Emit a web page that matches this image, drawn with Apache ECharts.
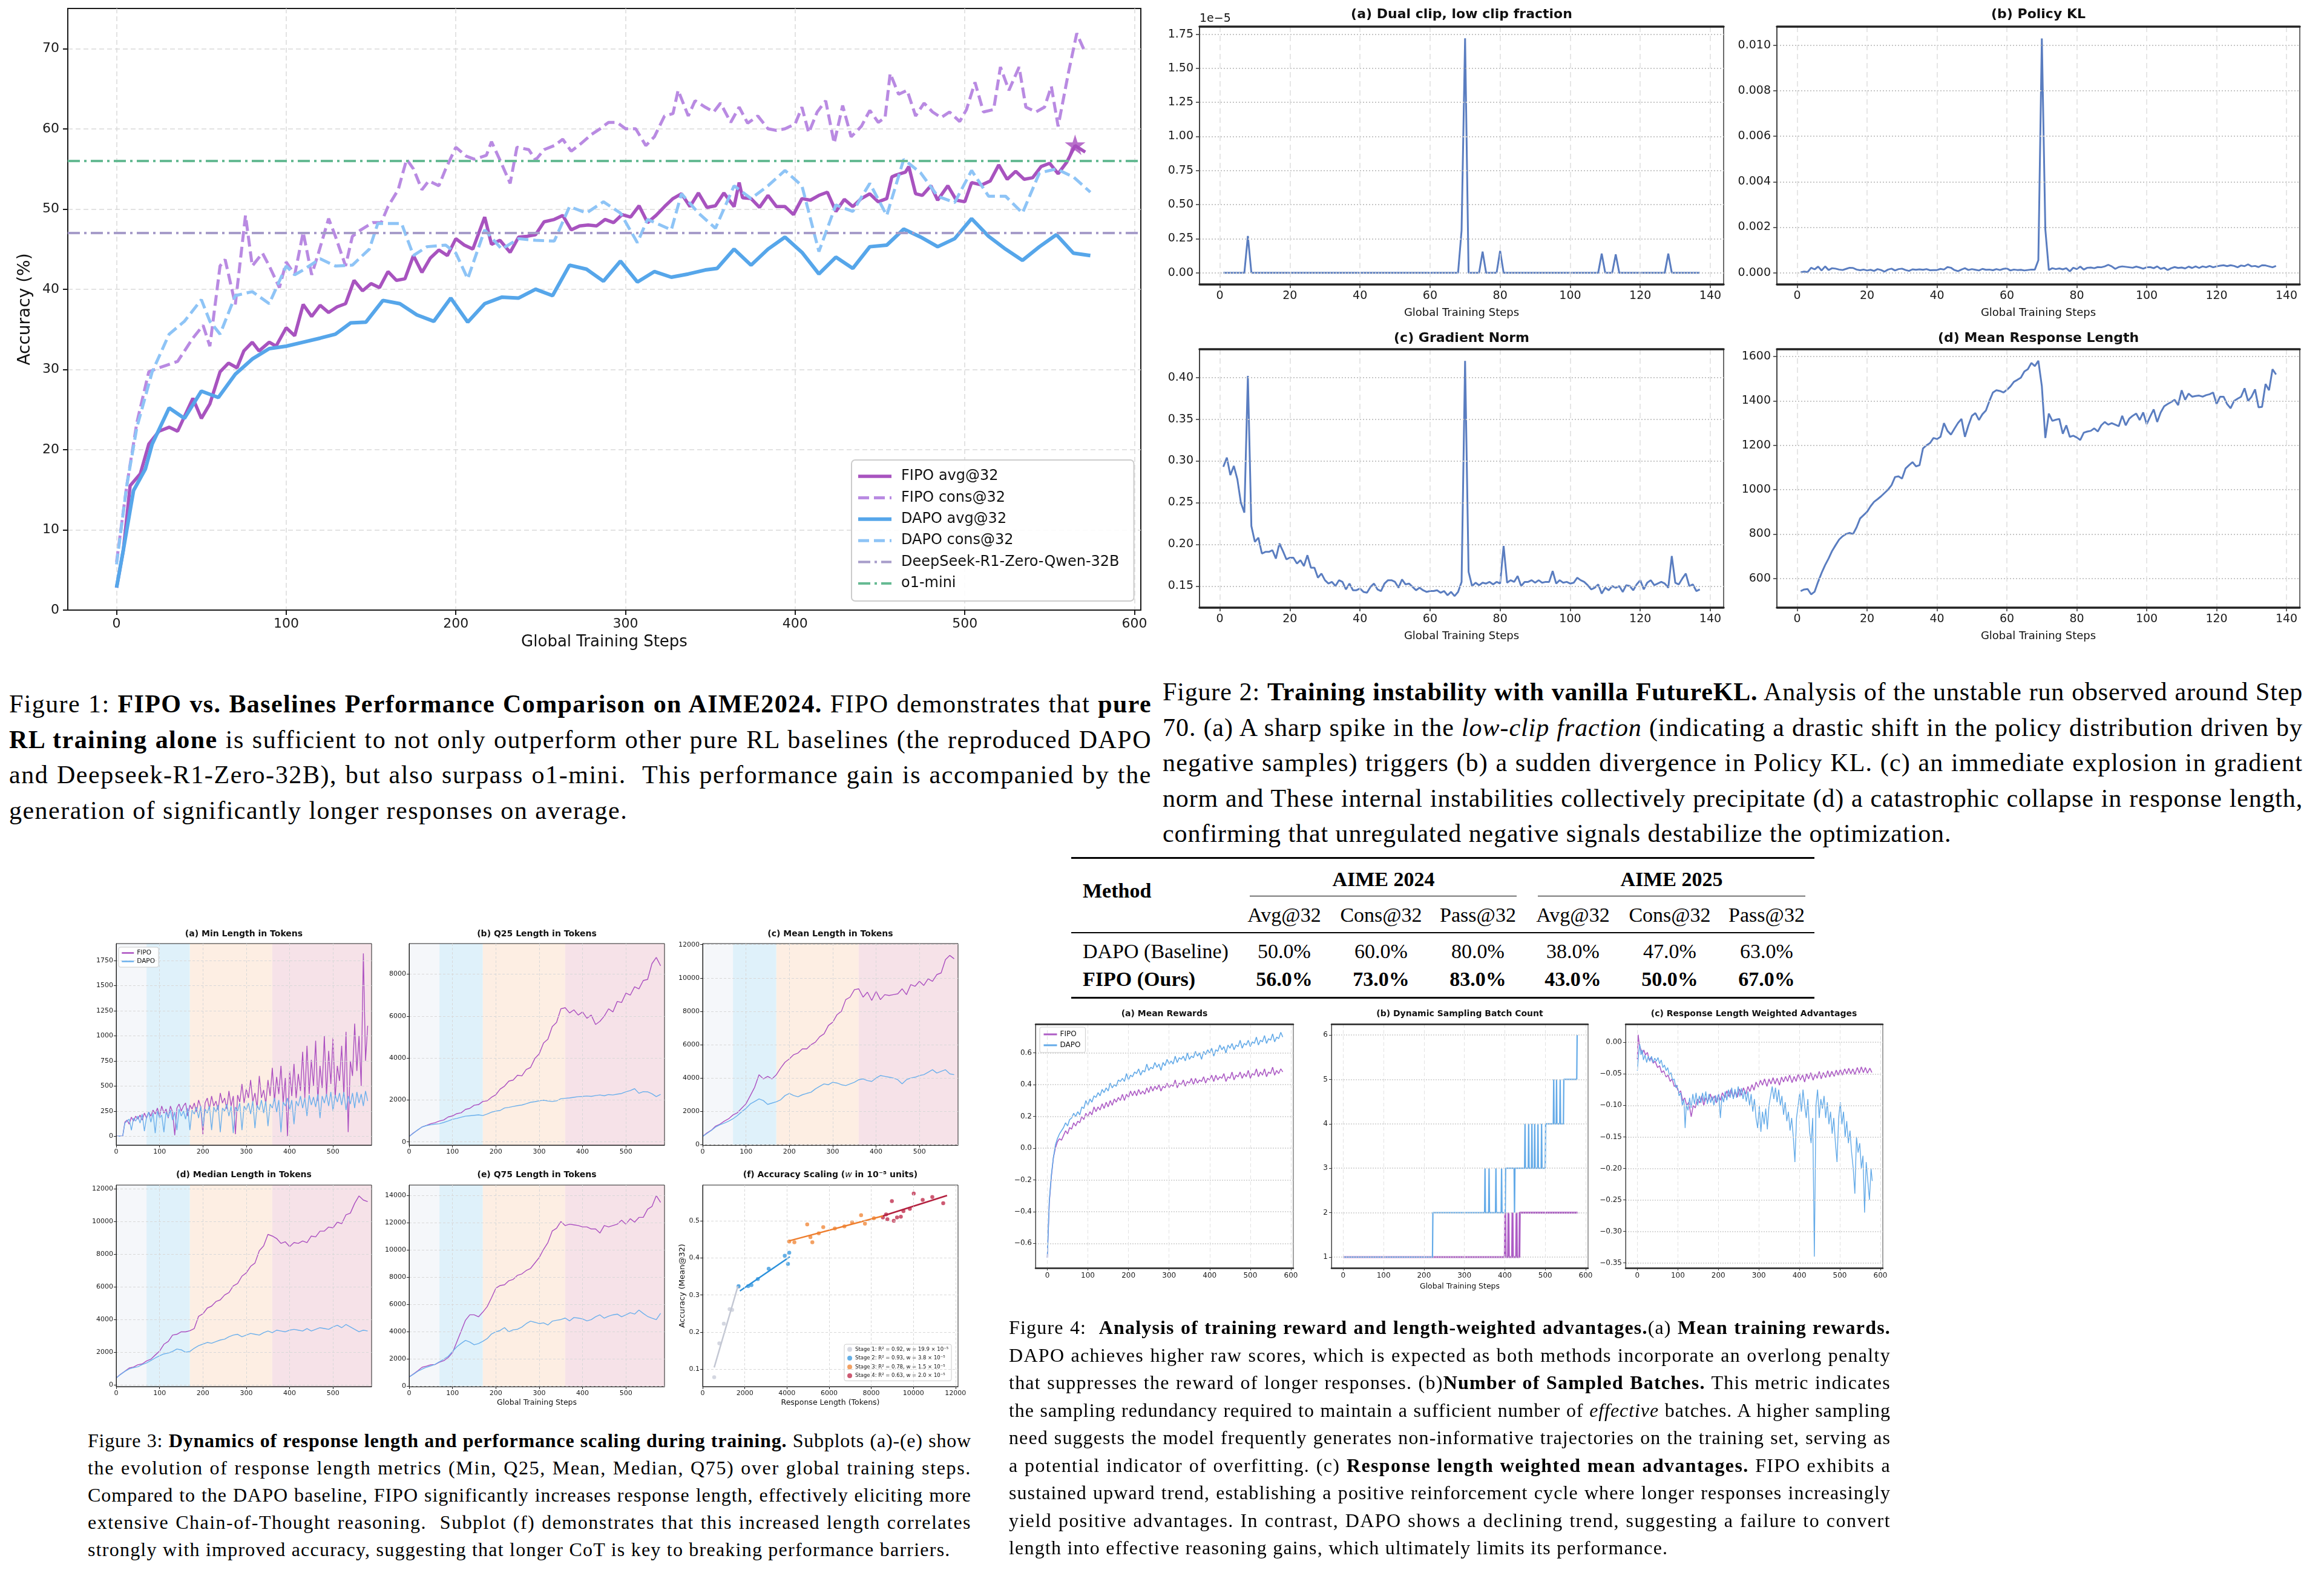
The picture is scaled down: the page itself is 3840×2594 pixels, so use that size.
<!DOCTYPE html>
<html>
<head>
<meta charset="utf-8">
<title>FIPO figures</title>
<script src="https://cdn.jsdelivr.net/npm/echarts@6/dist/echarts.min.js"></script>
<style>
  html, body { margin:0; padding:0; background:#fff; }
  body { width:3840px; height:2594px; position:relative; overflow:hidden; }
  .chart { position:absolute; }
  .cap { position:absolute; font-family:'Liberation Serif','DejaVu Serif',serif; color:#000; }
  .cap .ln { white-space:nowrap; }
  .cap .ln.j { text-align:justify; text-align-last:justify; }
  .rule { position:absolute; background:#000; }
  .tc, .tl { position:absolute; font-family:'Liberation Serif','DejaVu Serif',serif; font-size:34px; color:#000; white-space:nowrap; line-height:1; }
  .tc { transform:translate(-50%,-50%); }
  .tl { transform:translate(0,-50%); }
</style>
</head>
<body>
<div id="fig1" class="chart" style="left:0;top:0;width:1920px;height:1090px"></div>
<div id="fig2" class="chart" style="left:1900px;top:0;width:1940px;height:1090px"></div>
<div id="fig3" class="chart" style="left:0;top:1520px;width:1680px;height:820px"></div>
<div id="fig4" class="chart" style="left:1660px;top:1650px;width:1540px;height:520px"></div>

<div class="cap" style="left:15px;top:1134px;width:1888px;font-size:42px;line-height:58.5px">
  <div class="ln" data-j="1"><span>Figure 1: <b>FIPO vs. Baselines Performance Comparison on AIME2024.</b> FIPO demonstrates that <b>pure</b></span></div>
  <div class="ln" data-j="1"><span><b>RL training alone</b> is sufficient to not only outperform other pure RL baselines (the reproduced DAPO</span></div>
  <div class="ln" data-j="1"><span>and Deepseek-R1-Zero-32B), but also surpass o1-mini.&nbsp; This performance gain is accompanied by the</span></div>
  <div class="ln"><span>generation of significantly longer responses on average.</span></div>
</div>

<div class="cap" style="left:1921px;top:1114px;width:1884px;font-size:42px;line-height:58.5px">
  <div class="ln" data-j="1"><span>Figure 2: <b>Training instability with vanilla FutureKL.</b> Analysis of the unstable run observed around Step</span></div>
  <div class="ln" data-j="1"><span>70. (a) A sharp spike in the <i>low-clip fraction</i> (indicating a drastic shift in the policy distribution driven by</span></div>
  <div class="ln" data-j="1"><span>negative samples) triggers (b) a sudden divergence in Policy KL. (c) an immediate explosion in gradient</span></div>
  <div class="ln" data-j="1"><span>norm and These internal instabilities collectively precipitate (d) a catastrophic collapse in response length,</span></div>
  <div class="ln"><span>confirming that unregulated negative signals destabilize the optimization.</span></div>
</div>

<div class="cap" style="left:145px;top:2358px;width:1460px;font-size:32px;line-height:45px">
  <div class="ln" data-j="1"><span>Figure 3: <b>Dynamics of response length and performance scaling during training.</b> Subplots (a)-(e) show</span></div>
  <div class="ln" data-j="1"><span>the evolution of response length metrics (Min, Q25, Mean, Median, Q75) over global training steps.</span></div>
  <div class="ln" data-j="1"><span>Compared to the DAPO baseline, FIPO significantly increases response length, effectively eliciting more</span></div>
  <div class="ln" data-j="1"><span>extensive Chain-of-Thought reasoning.&nbsp; Subplot (f) demonstrates that this increased length correlates</span></div>
  <div class="ln"><span>strongly with improved accuracy, suggesting that longer CoT is key to breaking performance barriers.</span></div>
</div>

<div class="cap" style="left:1667px;top:2171px;width:1457px;font-size:32px;line-height:45.5px">
  <div class="ln" data-j="1"><span>Figure 4:&nbsp; <b>Analysis of training reward and length-weighted advantages.</b>(a) <b>Mean training rewards.</b></span></div>
  <div class="ln" data-j="1"><span>DAPO achieves higher raw scores, which is expected as both methods incorporate an overlong penalty</span></div>
  <div class="ln" data-j="1"><span>that suppresses the reward of longer responses. (b)<b>Number of Sampled Batches.</b> This metric indicates</span></div>
  <div class="ln" data-j="1"><span>the sampling redundancy required to maintain a sufficient number of <i>effective</i> batches. A higher sampling</span></div>
  <div class="ln" data-j="1"><span>need suggests the model frequently generates non-informative trajectories on the training set, serving as</span></div>
  <div class="ln" data-j="1"><span>a potential indicator of overfitting. (c) <b>Response length weighted mean advantages.</b> FIPO exhibits a</span></div>
  <div class="ln" data-j="1"><span>sustained upward trend, establishing a positive reinforcement cycle where longer responses increasingly</span></div>
  <div class="ln" data-j="1"><span>yield positive advantages. In contrast, DAPO shows a declining trend, suggesting a failure to convert</span></div>
  <div class="ln"><span>length into effective reasoning gains, which ultimately limits its performance.</span></div>
</div>

<div id="table"></div>

<script>
// ===================== DATA =====================
// ---- Figure 1: accuracy on AIME2024 ----
const fig1XTicks = [0, 100, 200, 300, 400, 500, 600];
const fig1YTicks = [0, 10, 20, 30, 40, 50, 60, 70];
const fipoAvg = [[0,2.8],[4,7.5],[8,15.5],[14,17],[19,20.7],[25,22.3],[31,22.8],[36,22.3],[45,26.4],[50,23.9],[55,25.7],[61,29.7],[66,30.8],[71,30.2],[75,32.3],[80,33.4],[84,32.3],[90,33.4],[94,32.9],[100,35.2],[105,34.2],[110,38.1],[115,36.6],[120,38.0],[125,37.1],[130,37.8],[135,38.2],[140,41.1],[145,39.8],[150,40.7],[155,40.2],[160,42.2],[165,41.1],[170,41.3],[175,44.2],[180,42.1],[185,43.9],[190,44.9],[195,44.2],[200,46.3],[205,45.5],[210,45.0],[217,49.0],[221,45.6],[226,46.1],[232,44.6],[237,46.5],[242,46.6],[247,46.8],[252,48.4],[258,48.7],[263,49.2],[268,47.4],[273,47.9],[278,48.0],[283,47.9],[288,48.7],[293,48.3],[298,49.3],[303,49.0],[308,50.4],[313,48.3],[318,49.2],[323,50.3],[328,51.3],[333,51.9],[338,50.3],[343,52.0],[348,50.2],[353,50.4],[358,52.0],[364,50.3],[367,53.3],[369,51.4],[374,51.3],[379,50.2],[384,51.7],[389,50.3],[394,50.3],[399,49.3],[404,51.3],[409,51.1],[414,51.7],[419,52.1],[424,49.7],[429,51.2],[434,50.3],[439,51.3],[444,51.9],[449,50.9],[454,51.3],[457,54.0],[459,54.2],[465,54.6],[467,55.3],[471,51.9],[475,51.7],[480,52.9],[484,51.1],[490,52.9],[495,51.1],[500,50.9],[504,53.3],[510,53.0],[515,53.5],[520,55.5],[525,53.7],[530,54.7],[535,53.7],[540,53.9],[545,55.3],[550,55.7],[555,54.4],[560,55.8],[565,57.9],[571,57.1]];
const fipoCons = [[0,6],[6,15.5],[12,23.4],[19,29.7],[25,30.2],[36,31.0],[45,33.9],[51,35.5],[55,32.9],[61,42.9],[64,43.7],[70,38.1],[76,49.2],[80,42.9],[86,44.5],[90,42.9],[96,40.2],[100,43.4],[105,41.8],[110,47.1],[115,41.8],[119,44.5],[125,48.8],[129,46.6],[135,42.9],[139,46.6],[144,47.4],[151,48.3],[156,48.3],[160,50.3],[166,52.4],[171,56.2],[175,55.0],[180,52.4],[184,53.5],[190,52.9],[194,55.0],[200,57.7],[206,56.6],[211,56.2],[218,56.7],[221,58.4],[226,56.1],[232,53.2],[236,57.7],[243,57.4],[247,56.1],[252,57.4],[258,57.9],[263,58.7],[268,57.2],[274,58.2],[280,59.3],[285,60.0],[290,60.8],[295,60.8],[300,60.0],[306,60.0],[312,57.9],[317,59.0],[323,61.6],[328,61.9],[331,64.8],[337,61.6],[341,63.5],[347,62.7],[352,62.1],[356,63.2],[362,60.8],[367,62.7],[372,60.7],[378,61.6],[384,60.0],[389,59.8],[394,60.0],[400,60.6],[404,62.7],[408,59.5],[413,62.1],[418,63.5],[423,58.2],[428,62.9],[433,59.0],[439,60.3],[444,62.3],[449,60.8],[453,61.4],[456,66.9],[461,64.3],[466,64.8],[471,61.6],[476,63.2],[481,62.1],[486,61.4],[491,62.1],[497,60.9],[501,62.4],[506,65.8],[511,62.1],[517,62.4],[521,67.7],[526,64.8],[532,67.7],[536,62.7],[542,62.1],[547,62.7],[551,65.3],[555,60.3],[561,66.9],[566,71.9],[571,69.5]];
const dapoAvg = [[0,2.8],[4,7.5],[10,14.9],[17,17.6],[21,20.7],[31,25.2],[40,23.9],[50,27.3],[60,26.5],[70,29.4],[80,31.3],[90,32.6],[100,32.9],[110,33.4],[120,33.9],[129,34.4],[138,35.8],[147,35.9],[157,38.6],[167,38.2],[177,36.8],[187,36.0],[197,38.9],[207,35.9],[217,38.2],[227,39.0],[237,38.9],[247,40.0],[257,39.2],[267,43.0],[277,42.5],[287,41.0],[297,43.5],[307,40.9],[317,42.2],[327,41.5],[337,41.9],[347,42.4],[354,42.6],[364,45.0],[374,43.0],[384,45.0],[394,46.5],[404,44.6],[414,41.9],[424,44.0],[434,42.6],[444,45.3],[454,45.5],[464,47.5],[474,46.5],[484,45.3],[494,46.3],[504,48.8],[514,46.6],[524,45.0],[534,43.6],[544,45.3],[554,46.8],[564,44.5],[574,44.2]];
const dapoCons = [[0,5.7],[6,15.5],[12,22.8],[21,29.7],[31,34.4],[40,36.0],[50,38.7],[55,36.0],[61,34.4],[70,39.2],[80,39.7],[90,38.2],[100,42.9],[105,41.8],[110,42.4],[120,43.8],[129,42.9],[139,43.0],[149,45.0],[154,48.2],[162,48.2],[168,48.2],[175,44.2],[183,45.3],[194,45.5],[200,44.5],[207,41.3],[217,47.4],[227,45.0],[237,46.3],[247,46.1],[258,46.0],[267,50.3],[277,49.5],[287,50.9],[297,49.5],[307,45.8],[313,48.7],[327,47.4],[333,51.9],[343,49.5],[353,47.6],[364,52.9],[374,51.3],[384,52.9],[394,54.8],[404,52.9],[414,44.7],[424,50.5],[434,49.7],[444,53.2],[454,49.2],[464,56.2],[474,54.5],[484,51.6],[494,50.8],[504,54.8],[514,51.6],[524,51.6],[534,49.5],[544,54.5],[554,55.0],[564,54.0],[574,52.1]];
const deepseekBaseline = 47;
const o1miniBaseline = 56;
const fipoBest = [565, 58];

// ---- Figure 2: unstable run (steps 1..137) ----
const fig2XTicks = [0, 20, 40, 60, 80, 100, 120, 140];
const clipFracE5 = [
  0,0,0,0,0,0,0,0.27,0,0,
  0,0,0,0,0,0,0,0,0,0,
  0,0,0,0,0,0,0,0,0,0,
  0,0,0,0,0,0,0,0,0,0,
  0,0,0,0,0,0,0,0,0,0,
  0,0,0,0,0,0,0,0,0,0,
  0,0,0,0,0,0,0,0,0.31,1.72,
  0,0,0,0,0.155,0,0,0,0,0.16,
  0,0,0,0,0,0,0,0,0,0,
  0,0,0,0,0,0,0,0,0,0,
  0,0,0,0,0,0,0,0,0.14,0,
  0,0,0.135,0,0,0,0,0,0,0,
  0,0,0,0,0,0,0,0.14,0,0,
  0,0,0,0,0,0,0];
const policyKlE3 = [
  0.02,0.05,0.03,0.22,0.15,0.27,0.10,0.28,0.12,0.20,
  0.18,0.14,0.12,0.17,0.22,0.21,0.14,0.11,0.14,0.10,
  0.13,0.08,0.16,0.12,0.05,0.14,0.18,0.10,0.16,0.18,
  0.12,0.08,0.15,0.13,0.15,0.13,0.16,0.11,0.12,0.12,
  0.17,0.14,0.25,0.22,0.12,0.07,0.14,0.20,0.12,0.16,
  0.13,0.10,0.17,0.13,0.14,0.11,0.16,0.12,0.17,0.19,
  0.10,0.14,0.12,0.13,0.10,0.12,0.14,0.14,0.55,10.3,
  1.9,0.12,0.20,0.16,0.19,0.15,0.20,0.06,0.22,0.16,
  0.27,0.14,0.22,0.23,0.20,0.25,0.24,0.28,0.35,0.28,
  0.17,0.25,0.28,0.26,0.24,0.22,0.27,0.23,0.18,0.24,
  0.25,0.20,0.28,0.17,0.22,0.12,0.20,0.25,0.21,0.23,
  0.19,0.27,0.21,0.28,0.21,0.28,0.24,0.30,0.24,0.28,
  0.31,0.33,0.29,0.33,0.30,0.24,0.32,0.29,0.37,0.28,
  0.30,0.25,0.33,0.32,0.28,0.24,0.30];
const gradNorm = [
  0.293,0.304,0.283,0.294,0.278,0.250,0.238,0.402,0.222,0.203,
  0.208,0.189,0.191,0.191,0.193,0.183,0.201,0.192,0.182,0.184,
  0.184,0.177,0.181,0.174,0.187,0.172,0.172,0.160,0.165,0.157,
  0.153,0.155,0.150,0.157,0.155,0.146,0.153,0.145,0.145,0.147,
  0.143,0.142,0.149,0.153,0.146,0.144,0.153,0.157,0.157,0.155,
  0.148,0.158,0.152,0.153,0.149,0.145,0.148,0.145,0.143,0.144,
  0.144,0.145,0.142,0.144,0.139,0.143,0.138,0.143,0.155,0.420,
  0.167,0.150,0.154,0.151,0.154,0.153,0.155,0.152,0.155,0.153,
  0.198,0.154,0.157,0.155,0.162,0.150,0.155,0.155,0.157,0.154,
  0.157,0.154,0.155,0.155,0.168,0.153,0.157,0.154,0.155,0.153,
  0.154,0.160,0.157,0.155,0.151,0.146,0.148,0.152,0.141,0.148,
  0.145,0.150,0.148,0.150,0.143,0.151,0.150,0.145,0.152,0.157,
  0.146,0.154,0.157,0.151,0.153,0.155,0.153,0.148,0.186,0.154,
  0.152,0.159,0.165,0.150,0.152,0.144,0.146];
const meanRespLen = [
  543,550,552,528,540,585,625,660,690,724,
  750,775,790,800,805,800,830,870,885,900,
  925,945,957,970,985,1000,1020,1057,1060,1050,
  1095,1110,1124,1105,1110,1186,1200,1210,1233,1228,
  1238,1300,1265,1248,1275,1300,1319,1238,1290,1333,
  1345,1314,1340,1357,1400,1438,1448,1445,1438,1450,
  1465,1486,1495,1505,1533,1543,1571,1557,1581,1467,
  1233,1343,1310,1315,1319,1252,1290,1238,1243,1235,
  1224,1257,1262,1265,1276,1262,1290,1305,1293,1300,
  1293,1286,1333,1290,1320,1333,1343,1314,1348,1295,
  1330,1362,1305,1348,1376,1386,1395,1405,1381,1448,
  1405,1433,1419,1422,1424,1419,1426,1430,1438,1386,
  1419,1419,1386,1367,1400,1410,1419,1457,1400,1419,
  1452,1371,1373,1476,1448,1543,1519];
const fig2aYTicks = [0, 0.25, 0.5, 0.75, 1.0, 1.25, 1.5, 1.75];
const fig2bYTicks = [0, 2, 4, 6, 8, 10];
const fig2cYTicks = [0.15, 0.20, 0.25, 0.30, 0.35, 0.40];
const fig2dYTicks = [600, 800, 1000, 1200, 1400, 1600];

// ---- Figure 3: response-length dynamics ----
const fig3XTicks = [0, 100, 200, 300, 400, 500];
const stageBounds = [0, 70, 170, 360, 589];
const minLenFipo = [0,0,0,0,140,160,120,190,150,200, 170,210,160,230,180,240,200,260,220,280, 200,300,230,270,180,300,240,10,280,320, 250,300,330,200,310,270,330,240,360,290, 20,330,380,270,400,300,350,260,430,330, 380,270,450,300,400,20,410,340,520,330, 470,380,560,340,430,280,600,380,460,320, 560,400,680,350,590,420,700,330,580,0, 650,400,720,380,620,450,840,380,900,420, 760,500,950,350,700,480,1000,400,850,520, 980,380,700,550,900,400,1040,40,750,600, 1120,650,1000,500,1820,750,1100];
const minLenDapo = [0,0,0,0,130,150,170,60,180,150, 200,130,220,50,190,240,140,230,30,250, 180,210,40,240,190,260,160,240,60,270, 200,250,170,280,60,260,220,290,180,300, 90,270,230,300,60,290,240,310,40,280, 250,320,200,300,30,290,250,330,60,300, 260,330,220,350,80,310,260,360,230,350, 100,320,280,380,240,360,40,340,300,380, 260,360,120,350,300,400,280,380,200,410, 310,390,290,420,180,400,330,420,300,440, 250,410,340,430,310,440,260,400,320,430, 280,440,330,420,300,450,350];
const q25Fipo = [260,430,570,720,790,870,920,1000,1050,1190, 1240,1350,1390,1550,1600,1750,1780,1930,1960,2130, 2250,2520,2660,2900,2950,3180,3150,3450,3550,3980, 4200,4720,4900,5500,5700,6350,6400,6150,6300,6050, 6200,5900,6050,5600,5750,6000,6350,6200,6700,6650, 7100,7000,7400,7300,7700,7750,8500,8800,8400];
const q25Dapo = [260,420,580,715,780,820,850,870,930,1000, 1080,1120,1180,1230,1250,1270,1290,1260,1330,1420, 1470,1500,1620,1650,1690,1730,1760,1820,1890,1920, 1960,1990,1950,1930,1960,2060,2080,2100,2130,2160, 2170,2190,2170,2210,2240,2200,2260,2240,2280,2310, 2390,2450,2540,2320,2400,2390,2300,2160,2270];
const meanLenFipo = [500,710,870,1120,1240,1420,1560,1790,1920,2190, 2460,2950,3450,4200,3950,4100,3950,4200,4600,4950, 5150,5400,5500,5750,5750,6000,6150,6480,6650,7150, 7350,7800,8000,8700,8850,9300,9350,8850,9150,8650, 9200,8700,9000,8950,9000,9050,9350,9000,9600,9500, 9800,9550,9950,9800,10200,10300,11100,11350,11150];
const meanLenDapo = [500,680,860,1060,1200,1300,1420,1560,1750,1980, 2180,2450,2600,2750,2650,2420,2500,2580,2700,2950, 3080,2950,2880,3000,3080,3150,3350,3500,3650,3600, 3750,3700,3600,3550,3650,3750,3900,3950,3850,3800, 4000,4150,4100,4050,4000,3900,3650,3900,4000,4050, 4150,4200,4350,4500,4300,4400,4500,4250,4200];
const medLenFipo = [430,660,840,1040,1100,1240,1290,1470,1580,1830, 2070,2490,2660,3050,3100,3250,3250,3320,3450,4200, 4350,4700,4820,5100,5200,5500,5650,6050,6200,6650, 6850,7250,7450,8200,8500,9200,9100,8950,8650,8750, 8450,8700,8650,8800,8700,9100,9050,9400,9400,9650, 9600,9950,9850,10400,10500,11100,11550,11300,11200];
const medLenDapo = [430,640,830,980,1060,1120,1250,1350,1500,1650, 1780,1900,1950,2050,2200,2150,2000,2050,2250,2400, 2500,2600,2550,2650,2750,2800,2950,3050,3100,2950, 3050,3150,3100,3050,3200,3300,3200,3350,3300,3250, 3350,3400,3350,3300,3450,3300,3400,3500,3450,3400, 3550,3650,3500,3700,3550,3400,3250,3350,3300];
const q75Fipo = [680,910,1140,1400,1480,1580,1600,1770,1880,2110, 2470,3250,4050,4850,5250,5250,5100,5450,5850,6500, 7200,7400,7450,7750,7850,8150,8250,8500,8650,9050, 9450,10050,10550,11400,11600,12100,11800,11900,11850,11800, 11700,11700,11550,11550,11250,11800,11700,11800,11900,12200, 11900,12300,12050,12400,12400,13000,13200,14000,13500];
const q75Dapo = [680,880,1100,1265,1400,1500,1615,1800,2000,2200, 2550,2900,3150,3370,3250,3050,3140,3300,3500,3840, 4000,4100,4310,4000,4150,4190,4350,4600,4780,4700, 4600,4660,4500,4780,4850,4900,5010,4800,5050,5010, 4950,4800,4895,5100,5245,5000,5150,5245,5300,5100, 5245,5400,5300,5600,5350,5130,5000,4895,5360];
const stageNames = ['Stage 1: R\u00b2 = 0.92, w = 19.9 \u00d7 10\u207b\u2075', 'Stage 2: R\u00b2 = 0.93, w = 3.8 \u00d7 10\u207b\u2075', 'Stage 3: R\u00b2 = 0.78, w = 1.5 \u00d7 10\u207b\u2075', 'Stage 4: R\u00b2 = 0.63, w = 2.0 \u00d7 10\u207b\u2075'];
const stagePts = [
  [[548,0.079],[792,0.17],[1005,0.223],[1279,0.262],[1400,0.26],[1705,0.322]],
  [[1705,0.324],[2161,0.324],[2314,0.327],[2618,0.343],[3135,0.371],[3896,0.406],[4049,0.384],[4110,0.414]],
  [[4110,0.444],[4353,0.442],[4962,0.49],[5205,0.442],[5114,0.456],[5510,0.466],[5723,0.483],[6271,0.479],[6727,0.485],[7093,0.496],[7519,0.515],[7702,0.492],[8128,0.507]],
  [[8554,0.509],[8706,0.517],[8767,0.504],[8980,0.553],[9071,0.5],[9224,0.509],[9406,0.511],[9528,0.526],[9833,0.532],[10016,0.573],[10442,0.556],[10898,0.564],[11416,0.547]]
];
const stageFits = [[[548,0.105],[1674,0.324]], [[1766,0.311],[4140,0.403]], [[4110,0.446],[8554,0.513]], [[8554,0.513],[11598,0.568]]];
const fig3fXTicks = [0, 2000, 4000, 6000, 8000, 10000, 12000];
const fig3fYTicks = [0.1, 0.2, 0.3, 0.4, 0.5];

// ---- Figure 4: rewards / batches / advantages ----
const fig4XTicks = [0, 100, 200, 300, 400, 500, 600];
const fipoReward = [-0.69,-0.34,-0.18,-0.06,0.00,0.04,0.06,0.05,0.08,0.11, 0.09,0.13,0.12,0.16,0.14,0.17,0.16,0.20,0.18,0.22, 0.20,0.23,0.21,0.26,0.23,0.26,0.24,0.28,0.25,0.29, 0.26,0.30,0.27,0.31,0.29,0.32,0.30,0.34,0.30,0.34, 0.32,0.36,0.33,0.36,0.33,0.37,0.34,0.36,0.34,0.38, 0.35,0.39,0.36,0.39,0.37,0.40,0.36,0.39,0.38,0.41, 0.38,0.40,0.39,0.43,0.38,0.41,0.40,0.43,0.39,0.42, 0.41,0.44,0.40,0.44,0.41,0.43,0.42,0.45,0.41,0.44, 0.43,0.46,0.42,0.46,0.43,0.45,0.44,0.47,0.42,0.45, 0.44,0.48,0.43,0.46,0.45,0.48,0.44,0.47,0.45,0.49, 0.44,0.47,0.46,0.50,0.45,0.48,0.46,0.50,0.45,0.48, 0.47,0.51,0.46,0.49,0.47,0.50,0.48];
const dapoReward = [-0.69,-0.33,-0.17,-0.06,0.02,0.06,0.09,0.11,0.13,0.16, 0.14,0.18,0.19,0.22,0.20,0.23,0.21,0.26,0.25,0.30, 0.27,0.31,0.29,0.33,0.32,0.35,0.33,0.37,0.35,0.38, 0.36,0.41,0.38,0.40,0.39,0.43,0.42,0.44,0.42,0.47, 0.43,0.46,0.45,0.48,0.47,0.50,0.46,0.49,0.48,0.53, 0.49,0.51,0.50,0.54,0.51,0.53,0.49,0.54,0.52,0.56, 0.53,0.55,0.53,0.58,0.54,0.57,0.56,0.58,0.55,0.60, 0.56,0.58,0.57,0.61,0.58,0.60,0.56,0.61,0.59,0.62, 0.60,0.63,0.58,0.62,0.61,0.65,0.62,0.64,0.60,0.65, 0.63,0.66,0.62,0.65,0.64,0.68,0.63,0.66,0.65,0.68, 0.64,0.67,0.66,0.70,0.65,0.68,0.67,0.71,0.66,0.69, 0.68,0.72,0.67,0.70,0.69,0.73,0.70];
const fipoBatches = [[0,1],[400,1],[401,2],[402,1],[408,1],[409,2],[410,1],[418,1],[419,2],[420,1],[428,1],[429,2],[430,1],[436,1],[437,2],[580,2]];
const dapoBatches = [[0,1],[221,1],[222,2],[350,2],[351,3],[352,2],[360,2],[361,3],[362,2],[377,2],[378,3],[379,2],[391,2],[392,3],[393,2],[401,2],[402,3],[423,3],[424,2],[425,3],[449,3],[450,4],[451,3],[458,3],[459,4],[460,3],[466,3],[467,4],[468,3],[473,3],[474,4],[475,3],[481,3],[482,4],[483,3],[490,3],[491,4],[492,3],[500,3],[501,4],[520,4],[521,5],[522,4],[527,4],[528,5],[529,4],[536,4],[537,5],[538,4],[545,4],[546,5],[554,5],[578,5],[579,6]];
const fipoAdv = [[0,-0.027],[2,0.012],[5,-0.004],[8,-0.01],[12,-0.018],[16,-0.012],[20,-0.02],[25,-0.016],[29,-0.028],[34,-0.024],[39,-0.033],[44,-0.03],[50,-0.04],[55,-0.037],[60,-0.048],[65,-0.045],[71,-0.055],[76,-0.052],[81,-0.062],[86,-0.058],[91,-0.07],[96,-0.068],[102,-0.08],[107,-0.077],[112,-0.093],[117,-0.088],[122,-0.1],[127,-0.095],[133,-0.118],[138,-0.1],[143,-0.104],[148,-0.09],[154,-0.096],[159,-0.085],[164,-0.1],[169,-0.088],[174,-0.094],[180,-0.082],[185,-0.092],[190,-0.085],[195,-0.096],[200,-0.083],[205,-0.092],[210,-0.08],[216,-0.088],[221,-0.077],[226,-0.086],[231,-0.075],[237,-0.088],[242,-0.078],[247,-0.087],[252,-0.074],[257,-0.084],[262,-0.072],[268,-0.082],[273,-0.07],[278,-0.078],[283,-0.067],[288,-0.076],[293,-0.063],[299,-0.071],[304,-0.06],[309,-0.068],[314,-0.058],[320,-0.07],[325,-0.058],[330,-0.066],[335,-0.056],[340,-0.066],[345,-0.057],[351,-0.068],[356,-0.055],[361,-0.063],[366,-0.054],[371,-0.062],[376,-0.052],[382,-0.064],[387,-0.054],[392,-0.062],[397,-0.05],[402,-0.06],[408,-0.052],[413,-0.063],[418,-0.05],[423,-0.058],[428,-0.048],[434,-0.06],[439,-0.05],[444,-0.057],[449,-0.046],[454,-0.058],[459,-0.048],[465,-0.056],[470,-0.045],[475,-0.055],[480,-0.046],[486,-0.054],[491,-0.044],[496,-0.052],[501,-0.043],[506,-0.052],[512,-0.042],[517,-0.05],[522,-0.041],[527,-0.05],[532,-0.042],[537,-0.051],[543,-0.04],[548,-0.049],[553,-0.039],[558,-0.048],[563,-0.04],[568,-0.049],[574,-0.041],[579,-0.048]];
const dapoAdv = [[0,-0.045],[3,-0.02],[6,-0.003],[9,-0.02],[12,-0.012],[15,-0.028],[19,-0.02],[23,-0.032],[27,-0.022],[31,-0.03],[35,-0.022],[39,-0.032],[43,-0.025],[47,-0.03],[51,-0.024],[55,-0.034],[59,-0.028],[63,-0.04],[67,-0.036],[71,-0.045],[75,-0.04],[79,-0.052],[83,-0.048],[87,-0.06],[91,-0.058],[95,-0.072],[99,-0.068],[103,-0.085],[107,-0.08],[111,-0.1],[115,-0.09],[118,-0.136],[121,-0.098],[125,-0.108],[129,-0.088],[133,-0.104],[137,-0.082],[141,-0.098],[145,-0.08],[149,-0.1],[153,-0.085],[157,-0.096],[161,-0.08],[165,-0.094],[169,-0.078],[173,-0.098],[177,-0.082],[181,-0.096],[185,-0.086],[189,-0.1],[193,-0.084],[197,-0.095],[201,-0.082],[205,-0.12],[209,-0.085],[213,-0.095],[217,-0.078],[221,-0.092],[225,-0.075],[229,-0.088],[233,-0.072],[237,-0.09],[241,-0.074],[245,-0.088],[249,-0.07],[253,-0.086],[257,-0.073],[261,-0.09],[265,-0.076],[269,-0.094],[273,-0.078],[277,-0.1],[281,-0.082],[285,-0.11],[289,-0.09],[293,-0.12],[297,-0.136],[301,-0.1],[305,-0.142],[309,-0.11],[313,-0.13],[317,-0.105],[321,-0.138],[325,-0.1],[329,-0.085],[333,-0.07],[337,-0.09],[341,-0.072],[345,-0.095],[349,-0.075],[353,-0.1],[357,-0.085],[361,-0.115],[365,-0.095],[369,-0.125],[373,-0.11],[377,-0.14],[381,-0.12],[385,-0.15],[389,-0.19],[393,-0.12],[397,-0.1],[401,-0.08],[405,-0.11],[409,-0.075],[413,-0.1],[417,-0.12],[421,-0.09],[425,-0.14],[429,-0.16],[433,-0.12],[437,-0.34],[441,-0.1],[445,-0.075],[449,-0.12],[453,-0.09],[457,-0.105],[461,-0.085],[465,-0.12],[469,-0.095],[473,-0.13],[477,-0.11],[481,-0.145],[485,-0.12],[489,-0.16],[493,-0.19],[497,-0.12],[501,-0.095],[505,-0.13],[509,-0.11],[513,-0.15],[517,-0.125],[521,-0.16],[525,-0.14],[529,-0.175],[533,-0.2],[537,-0.24],[541,-0.15],[545,-0.175],[549,-0.16],[553,-0.2],[557,-0.18],[561,-0.27],[565,-0.19],[569,-0.22],[573,-0.25],[577,-0.2],[580,-0.22]];
const fig4aYTicks = [-0.6, -0.4, -0.2, 0.0, 0.2, 0.4, 0.6];
const fig4bYTicks = [1, 2, 3, 4, 5, 6];
const fig4cYTicks = [0.00, -0.05, -0.10, -0.15, -0.20, -0.25, -0.30, -0.35];

// ---- Table ----
const tableCols = ['Avg@32', 'Cons@32', 'Pass@32', 'Avg@32', 'Cons@32', 'Pass@32'];
const tableRows = [
  { name: 'DAPO (Baseline)', vals: ['50.0%', '60.0%', '80.0%', '38.0%', '47.0%', '63.0%'], bold: false },
  { name: 'FIPO (Ours)', vals: ['56.0%', '73.0%', '83.0%', '43.0%', '50.0%', '67.0%'], bold: true }
];

// ===================== HELPERS =====================
const FONT = 'DejaVu Sans';
const MINUS = '\u2212';
const fmt = n => v => (v < -1e-12 ? MINUS : '') + Math.abs(v).toFixed(n);
const idxPairs = (arr, start, step) => arr.map((v, i) => [start + i * step, v]);
const STAR = 'path://M50,0 L61.8,35.1 L98.9,35.1 L68.9,57 L80.3,92.1 L50,70.4 L19.7,92.1 L31.1,57 L1.1,35.1 L38.2,35.1 Z';
const HIDE_LEGEND_DOT = { opacity: 0 };

function buildPanels(panels, S) {
  const grid = [], xAxis = [], yAxis = [];
  panels.forEach((p, i) => {
    grid.push({ left: p.l, top: p.t, width: p.w, height: p.h, show: true, borderColor: S.side, borderWidth: S.sideW, backgroundColor: 'rgba(0,0,0,0)' });
    xAxis.push({
      type: 'value', gridIndex: i, min: p.xMin, max: p.xMax, position: 'bottom', z: 4,
      axisLine: { show: true, onZero: false, lineStyle: { color: S.tb, width: S.tbW } },
      axisTick: { show: true, customValues: p.xTicks, length: S.tickLen, lineStyle: { color: S.tickColor, width: S.tickW } },
      axisLabel: { show: true, customValues: p.xTicks, formatter: p.xFmt || (v => String(v)), fontFamily: FONT, fontSize: S.fs, color: S.lc, margin: S.xm },
      splitLine: { show: true, lineStyle: S.vGrid },
      name: p.xName || '', nameLocation: 'middle', nameGap: p.xNameGap || 20,
      nameTextStyle: { fontFamily: FONT, fontSize: S.nfs, color: '#111' }
    });
    yAxis.push({
      type: 'value', gridIndex: i, min: p.yMin, max: p.yMax, z: 4,
      axisLine: { show: true, onZero: false, lineStyle: { color: S.side, width: S.sideW } },
      axisTick: { show: true, customValues: p.yTicks, length: S.tickLen, lineStyle: { color: S.tickColor, width: S.tickW } },
      axisLabel: { show: true, customValues: p.yTicks, formatter: p.yFmt || (v => String(v)), fontFamily: FONT, fontSize: S.fs, color: S.lc, margin: S.ym },
      splitLine: { show: true, lineStyle: S.hGrid },
      name: p.yName || '', nameLocation: 'middle', nameGap: p.yNameGap || 30,
      nameTextStyle: { fontFamily: FONT, fontSize: p.yNameSize || S.nfs, color: '#111' }
    });
  });
  if (S.tbW > S.sideW) {
    panels.forEach((p, i) => xAxis.push({
      type: 'value', gridIndex: i, min: p.xMin, max: p.xMax, position: 'top', z: 4,
      axisLine: { show: true, onZero: false, lineStyle: { color: S.tb, width: S.tbW } },
      axisTick: { show: false }, axisLabel: { show: false }, splitLine: { show: false }
    }));
  }
  return { grid, xAxis, yAxis };
}
function ttl(text, cx, cy, size, weight, align, rich) {
  return { text, left: cx, top: cy - size * 0.6, textAlign: align || 'center', padding: 0,
    textStyle: { fontFamily: FONT, fontSize: size, fontWeight: weight || 'bold', color: '#111', lineHeight: size * 1.2, rich: rich } };
}
function ln(name, data, color, width, xi, extra) {
  return Object.assign({ name, type: 'line', data, xAxisIndex: xi, yAxisIndex: xi, symbol: 'none', showSymbol: false,
    lineStyle: { color, width }, itemStyle: { color }, emphasis: { disabled: true }, silent: true, animation: false }, extra || {});
}

// ===================== FIGURE 1 =====================
(function () {
  const c1 = { fa: '#a853bf', fc: '#b98ae2', da: '#56a6ea', dc: '#8ec4f6', ds: '#a69cc9', o1: '#66ba93' };
  const hline = (name, val, color) => ({
    name, type: 'line', data: [], symbol: 'none', itemStyle: { color }, lineStyle: { color, width: 4, type: [20, 7, 4, 7] },
    markLine: { silent: true, symbol: ['none', 'none'], label: { show: false }, emphasis: { disabled: true }, animation: false,
      lineStyle: { color, width: 4, type: [20, 7, 4, 7] }, data: [{ yAxis: val }] }
  });
  const chart = echarts.init(document.getElementById('fig1'));
  chart.setOption({
    animation: false,
    textStyle: { fontFamily: FONT },
    grid: { left: 112, top: 14, width: 1773, height: 994, show: true, borderColor: '#1a1a1a', borderWidth: 2 },
    xAxis: { type: 'value', min: -28.75, max: 603.75,
      axisLine: { show: true, onZero: false, lineStyle: { color: '#1a1a1a', width: 2 } },
      axisTick: { show: true, customValues: fig1XTicks, length: 8, lineStyle: { color: '#1a1a1a', width: 2 } },
      axisLabel: { customValues: fig1XTicks, fontFamily: FONT, fontSize: 22, color: '#1a1a1a', margin: 12 },
      splitLine: { show: true, lineStyle: { color: '#dadada', width: 1.5, type: [8, 5] } },
      name: 'Global Training Steps', nameLocation: 'middle', nameGap: 40, nameTextStyle: { fontFamily: FONT, fontSize: 26, color: '#111' } },
    yAxis: { type: 'value', min: 0, max: 75,
      axisLine: { show: true, onZero: false, lineStyle: { color: '#1a1a1a', width: 2 } },
      axisTick: { show: true, customValues: fig1YTicks, length: 8, lineStyle: { color: '#1a1a1a', width: 2 } },
      axisLabel: { customValues: fig1YTicks, fontFamily: FONT, fontSize: 22, color: '#1a1a1a', margin: 14 },
      splitLine: { show: true, lineStyle: { color: '#dadada', width: 1.5, type: [8, 5] } },
      name: 'Accuracy (%)', nameLocation: 'middle', nameGap: 56, nameTextStyle: { fontFamily: FONT, fontSize: 28, color: '#111' } },
    legend: { orient: 'vertical', left: 1407, top: 760, itemWidth: 55, itemHeight: 16, itemGap: 5.4,
      padding: [12, 24, 14, 8], backgroundColor: 'rgba(255,255,255,0.9)', borderColor: '#cccccc', borderWidth: 2, borderRadius: 6,
      itemStyle: HIDE_LEGEND_DOT, lineStyle: { width: 'inherit' },
      textStyle: { fontFamily: FONT, fontSize: 24, color: '#111', lineHeight: 30, padding: [0, 0, 0, 11] },
      data: ['FIPO avg@32', 'FIPO cons@32', 'DAPO avg@32', 'DAPO cons@32', 'DeepSeek-R1-Zero-Qwen-32B', 'o1-mini'] },
    series: [
      ln('FIPO avg@32', fipoAvg, c1.fa, 5.5, 0),
      ln('FIPO cons@32', fipoCons, c1.fc, 5, 0, { lineStyle: { color: c1.fc, width: 5, type: [18, 8] } }),
      ln('DAPO avg@32', dapoAvg, c1.da, 6, 0),
      ln('DAPO cons@32', dapoCons, c1.dc, 5, 0, { lineStyle: { color: c1.dc, width: 5, type: [18, 8] } }),
      hline('DeepSeek-R1-Zero-Qwen-32B', deepseekBaseline, c1.ds),
      hline('o1-mini', o1miniBaseline, c1.o1),
      { type: 'scatter', data: [fipoBest], symbol: STAR, symbolSize: 34, itemStyle: { color: '#a64cbe' }, silent: true, z: 5 }
    ]
  });
})();

// ===================== FIGURE 2 =====================
(function () {
  const S = { fs: 19, lc: '#1a1a1a', side: '#3a3a3a', sideW: 1.5, tb: '#222', tbW: 3.5, tickLen: 6, tickColor: '#333', tickW: 1.5, xm: 10, ym: 10,
    hGrid: { color: '#c6c6c6', width: 2, type: [2, 3] }, vGrid: { color: '#dedede', width: 1.5, type: [9, 6] }, nfs: 18 };
  const panels = [
    { l: 82, t: 44, w: 866, h: 426, xMin: -5.8, xMax: 143.8, xTicks: fig2XTicks, yMin: -0.086, yMax: 1.806, yTicks: fig2aYTicks, yFmt: fmt(2), xName: 'Global Training Steps', xNameGap: 38 },
    { l: 1036, t: 44, w: 864, h: 426, xMin: -5.8, xMax: 143.8, xTicks: fig2XTicks, yMin: -0.515, yMax: 10.82, yTicks: fig2bYTicks, yFmt: v => (v / 1000).toFixed(3), xName: 'Global Training Steps', xNameGap: 38 },
    { l: 82, t: 577, w: 866, h: 427, xMin: -5.8, xMax: 143.8, xTicks: fig2XTicks, yMin: 0.1241, yMax: 0.4339, yTicks: fig2cYTicks, yFmt: fmt(2), xName: 'Global Training Steps', xNameGap: 38 },
    { l: 1036, t: 577, w: 864, h: 427, xMin: -5.8, xMax: 143.8, xTicks: fig2XTicks, yMin: 468, yMax: 1633, yTicks: fig2dYTicks, yFmt: v => String(v), xName: 'Global Training Steps', xNameGap: 38 }
  ];
  const P = buildPanels(panels, S);
  const col = '#5a7dc0';
  const chart = echarts.init(document.getElementById('fig2'));
  chart.setOption({
    animation: false, textStyle: { fontFamily: FONT },
    title: [
      ttl('(a) Dual clip, low clip fraction', 515, 24, 22),
      ttl('(b) Policy KL', 1468, 24, 22),
      ttl('(c) Gradient Norm', 515, 559, 22),
      ttl('(d) Mean Response Length', 1468, 559, 22),
      ttl('1e\u22125', 82, 31, 19, 'normal', 'left')
    ],
    grid: P.grid, xAxis: P.xAxis, yAxis: P.yAxis,
    series: [
      ln('clip', idxPairs(clipFracE5, 1, 1), col, 3, 0),
      ln('kl', idxPairs(policyKlE3, 1, 1), col, 3, 1),
      ln('grad', idxPairs(gradNorm, 1, 1), col, 3, 2),
      ln('len', idxPairs(meanRespLen, 1, 1), col, 3, 3)
    ]
  });
})();

// ===================== FIGURE 3 =====================
(function () {
  const S = { fs: 11, lc: '#1a1a1a', side: '#222', sideW: 1, tb: '#222', tbW: 1, tickLen: 4, tickColor: '#222', tickW: 1, xm: 6, ym: 5,
    hGrid: { color: '#d8d8d8', width: 1, type: [4, 3] }, vGrid: { color: '#d8d8d8', width: 1, type: [4, 3] }, nfs: 12.5 };
  const L = [192, 676, 1161], T = [39, 438], W = 422, H = 333;
  const yt = (a, b, s) => { const r = []; for (let v = a; v <= b + 1e-9; v += s) r.push(v); return r; };
  const panels = [
    { l: L[0], t: T[0], w: W, h: H, xMin: 0, xMax: 589, xTicks: fig3XTicks, yMin: -89, yMax: 1918, yTicks: yt(0, 1750, 250) },
    { l: L[1], t: T[0], w: W, h: H, xMin: 0, xMax: 589, xTicks: fig3XTicks, yMin: -152, yMax: 9460, yTicks: yt(0, 8000, 2000) },
    { l: L[2], t: T[0], w: W, h: H, xMin: 0, xMax: 589, xTicks: fig3XTicks, yMin: -20, yMax: 12060, yTicks: yt(0, 12000, 2000) },
    { l: L[0], t: T[1], w: W, h: H, xMin: 0, xMax: 589, xTicks: fig3XTicks, yMin: -97, yMax: 12214, yTicks: yt(0, 12000, 2000) },
    { l: L[1], t: T[1], w: W, h: H, xMin: 0, xMax: 589, xTicks: fig3XTicks, yMin: -23, yMax: 14773, yTicks: yt(0, 14000, 2000), xName: 'Global Training Steps', xNameGap: 20 },
    { l: L[2], t: T[1], w: W, h: H, xMin: 0, xMax: 12120, xTicks: fig3fXTicks, yMin: 0.0536, yMax: 0.596, yTicks: fig3fYTicks, yFmt: fmt(1), xName: 'Response Length (Tokens)', xNameGap: 20, yName: 'Accuracy (Mean@32)', yNameGap: 27, yNameSize: 13 }
  ];
  const P = buildPanels(panels, S);
  const cF = '#ab4fc0', cD = '#6cb0ec';
  const bandColors = ['#f5f7fa', '#dff1fa', '#fdeee3', '#f6e2e8'];
  const bands = bandColors.map((c, k) => [{ xAxis: stageBounds[k], itemStyle: { color: c } }, { xAxis: stageBounds[k + 1] }]);
  const steps5 = minLenFipo.map((_, i) => i * 5);
  const steps10 = q25Fipo.map((_, i) => i * 10);
  const pair = (xs, ys) => ys.map((v, i) => [xs[i], v]);
  const series = [];
  for (let i = 0; i < 5; i++) series.push({ type: 'line', data: [], xAxisIndex: i, yAxisIndex: i, silent: true, z: -1,
    markArea: { silent: true, z: -1, emphasis: { disabled: true }, animation: false, data: bands } });
  const pairs = [[minLenFipo, minLenDapo, steps5], [q25Fipo, q25Dapo, steps10], [meanLenFipo, meanLenDapo, steps10], [medLenFipo, medLenDapo, steps10], [q75Fipo, q75Dapo, steps10]];
  pairs.forEach((pp, i) => {
    series.push(ln('FIPO', pair(pp[2], pp[0]), cF, 1.4, i));
    series.push(ln('DAPO', pair(pp[2], pp[1]), cD, 1.4, i));
  });
  const stageCol = ['#c9cdd9', '#3d9be0', '#f08a3c', '#c0304f'];
  const stageLine = ['#c3c7d3', '#2a90db', '#ee7d2c', '#b3203f'];
  stagePts.forEach((pts, k) => {
    series.push({ name: stageNames[k], type: 'scatter', data: pts, xAxisIndex: 5, yAxisIndex: 5, symbolSize: 6.5, itemStyle: { color: stageCol[k], opacity: 0.8 }, silent: true });
    series.push(ln('fit' + k, stageFits[k], stageLine[k], 2.5, 5));
  });
  const chart = echarts.init(document.getElementById('fig3'));
  chart.setOption({
    animation: false, textStyle: { fontFamily: FONT },
    title: [
      ttl('(a) Min Length in Tokens', 403, 23, 14), ttl('(b) Q25 Length in Tokens', 887, 23, 14), ttl('(c) Mean Length in Tokens', 1372, 23, 14),
      ttl('(d) Median Length in Tokens', 403, 421, 14), ttl('(e) Q75 Length in Tokens', 887, 421, 14),
      ttl('(f) Accuracy Scaling ({i|w} in 10\u207b\u2075 units)', 1372, 421, 14, 'bold', 'center', { i: { fontFamily: FONT, fontSize: 14, fontStyle: 'italic', fontWeight: 'normal', color: '#111' } })
    ],
    legend: [
      { orient: 'vertical', left: 196, top: 45, itemWidth: 20, itemHeight: 8, itemGap: 3, padding: [4, 6, 4, 4], backgroundColor: 'rgba(255,255,255,0.9)', borderColor: '#cccccc', borderWidth: 1, borderRadius: 3,
        itemStyle: HIDE_LEGEND_DOT, lineStyle: { width: 2.5 }, textStyle: { fontFamily: FONT, fontSize: 10.5, color: '#111' }, data: ['FIPO', 'DAPO'] },
      { orient: 'vertical', left: 1395, top: 701, itemWidth: 8, itemHeight: 8, itemGap: 5.5, icon: 'circle', padding: [4, 5, 4, 5], backgroundColor: 'rgba(255,255,255,0.9)', borderColor: '#cccccc', borderWidth: 1, borderRadius: 3,
        textStyle: { fontFamily: FONT, fontSize: 8.5, color: '#111' }, data: stageNames }
    ],
    grid: P.grid, xAxis: P.xAxis, yAxis: P.yAxis, series
  });
})();

// ===================== FIGURE 4 =====================
(function () {
  const S = { fs: 12, lc: '#1a1a1a', side: '#444', sideW: 1, tb: '#2a2a2a', tbW: 2.5, tickLen: 4, tickColor: '#333', tickW: 1, xm: 7, ym: 6,
    hGrid: { color: '#cdcdcd', width: 1.5, type: [2, 2] }, vGrid: { color: '#e2e2e2', width: 1, type: [6, 4] }, nfs: 12.5 };
  const panels = [
    { l: 51, t: 42, w: 426, h: 403, xMin: -29, xMax: 606, xTicks: fig4XTicks, yMin: -0.755, yMax: 0.782, yTicks: fig4aYTicks, yFmt: fmt(1) },
    { l: 540, t: 42, w: 424, h: 403, xMin: -29, xMax: 606, xTicks: fig4XTicks, yMin: 0.755, yMax: 6.245, yTicks: fig4bYTicks, yFmt: v => String(v), xName: 'Global Training Steps', xNameGap: 24 },
    { l: 1026, t: 42, w: 425, h: 403, xMin: -29, xMax: 606, xTicks: fig4XTicks, yMin: -0.358, yMax: 0.029, yTicks: fig4cYTicks, yFmt: fmt(2) }
  ];
  const P = buildPanels(panels, S);
  const cF = '#ad5cc5', cD = '#63aae8';
  const steps5 = fipoReward.map((_, i) => i * 5);
  const pair = (xs, ys) => ys.map((v, i) => [xs[i], v]);
  const chart = echarts.init(document.getElementById('fig4'));
  chart.setOption({
    animation: false, textStyle: { fontFamily: FONT },
    title: [ttl('(a) Mean Rewards', 264, 25, 14), ttl('(b) Dynamic Sampling Batch Count', 752, 25, 14), ttl('(c) Response Length Weighted Advantages', 1238, 25, 14)],
    legend: { orient: 'vertical', left: 58, top: 47, itemWidth: 22, itemHeight: 8, itemGap: 6, padding: [6, 8, 6, 5], backgroundColor: 'rgba(255,255,255,0.9)', borderColor: '#cccccc', borderWidth: 1, borderRadius: 3,
      itemStyle: HIDE_LEGEND_DOT, lineStyle: { width: 3 }, textStyle: { fontFamily: FONT, fontSize: 12, color: '#111' }, data: ['FIPO', 'DAPO'] },
    grid: P.grid, xAxis: P.xAxis, yAxis: P.yAxis,
    series: [
      ln('FIPO', pair(steps5, fipoReward), cF, 1.6, 0),
      ln('DAPO', pair(steps5, dapoReward), cD, 1.6, 0),
      ln('FIPO', fipoBatches, cF, 3.2, 1),
      ln('DAPO', dapoBatches, cD, 2.2, 1),
      ln('FIPO', fipoAdv, cF, 1.6, 2),
      ln('DAPO', dapoAdv, cD, 1.4, 2)
    ]
  });
})();

// ===================== TABLE =====================
(function () {
  const root = document.getElementById('table');
  const add = (cls, style, html) => { const d = document.createElement('div'); d.className = cls; d.setAttribute('style', style); if (html != null) d.innerHTML = html; root.appendChild(d); };
  add('rule', 'left:1770px;top:1415.5px;width:1228px;height:3px');
  add('rule', 'left:2065px;top:1479.5px;width:441px;height:1.5px');
  add('rule', 'left:2541px;top:1479.5px;width:442px;height:1.5px');
  add('rule', 'left:1770px;top:1540px;width:1228px;height:2px');
  add('rule', 'left:1770px;top:1646.5px;width:1228px;height:3px');
  add('tl', 'left:1789px;top:1472px;font-weight:bold', 'Method');
  add('tc', 'left:2286px;top:1453px;font-weight:bold', 'AIME 2024');
  add('tc', 'left:2762px;top:1453px;font-weight:bold', 'AIME 2025');
  const colX = [2122, 2282, 2442, 2599, 2759, 2919];
  tableCols.forEach((c, k) => add('tc', 'left:' + colX[k] + 'px;top:1512px', c));
  const rowY = [1572, 1618];
  tableRows.forEach((r, j) => {
    const fw = r.bold ? 'font-weight:bold;' : '';
    add('tl', 'left:1789px;top:' + rowY[j] + 'px;' + fw, r.name);
    r.vals.forEach((v, k) => add('tc', 'left:' + colX[k] + 'px;top:' + rowY[j] + 'px;' + fw, v));
  });
})();

// ===================== CAPTION LINE FITTING =====================
// Spread glyphs slightly (the original face is wider than the available serif), then justify.
document.querySelectorAll('.cap').forEach(cap => {
  const lines = Array.from(cap.querySelectorAll('.ln'));
  const W = cap.clientWidth;
  let sum = 0, cnt = 0;
  const info = lines.map(el => {
    const span = el.firstElementChild;
    const w = span.getBoundingClientRect().width;
    const n = Math.max(1, span.textContent.length);
    const ls = (W - w) / n;
    if (el.dataset.j) { sum += ls; cnt++; }
    return { el, span, ls };
  });
  const avg = cnt ? sum / cnt : 0;
  info.forEach(o => {
    let ls = o.el.dataset.j ? o.ls : Math.min(avg, o.ls);
    ls = ls > 0 ? ls * 0.9 : ls - 0.05;
    o.span.style.letterSpacing = ls.toFixed(3) + 'px';
    if (o.el.dataset.j) o.el.classList.add('j');
  });
});
</script>
</body>
</html>
